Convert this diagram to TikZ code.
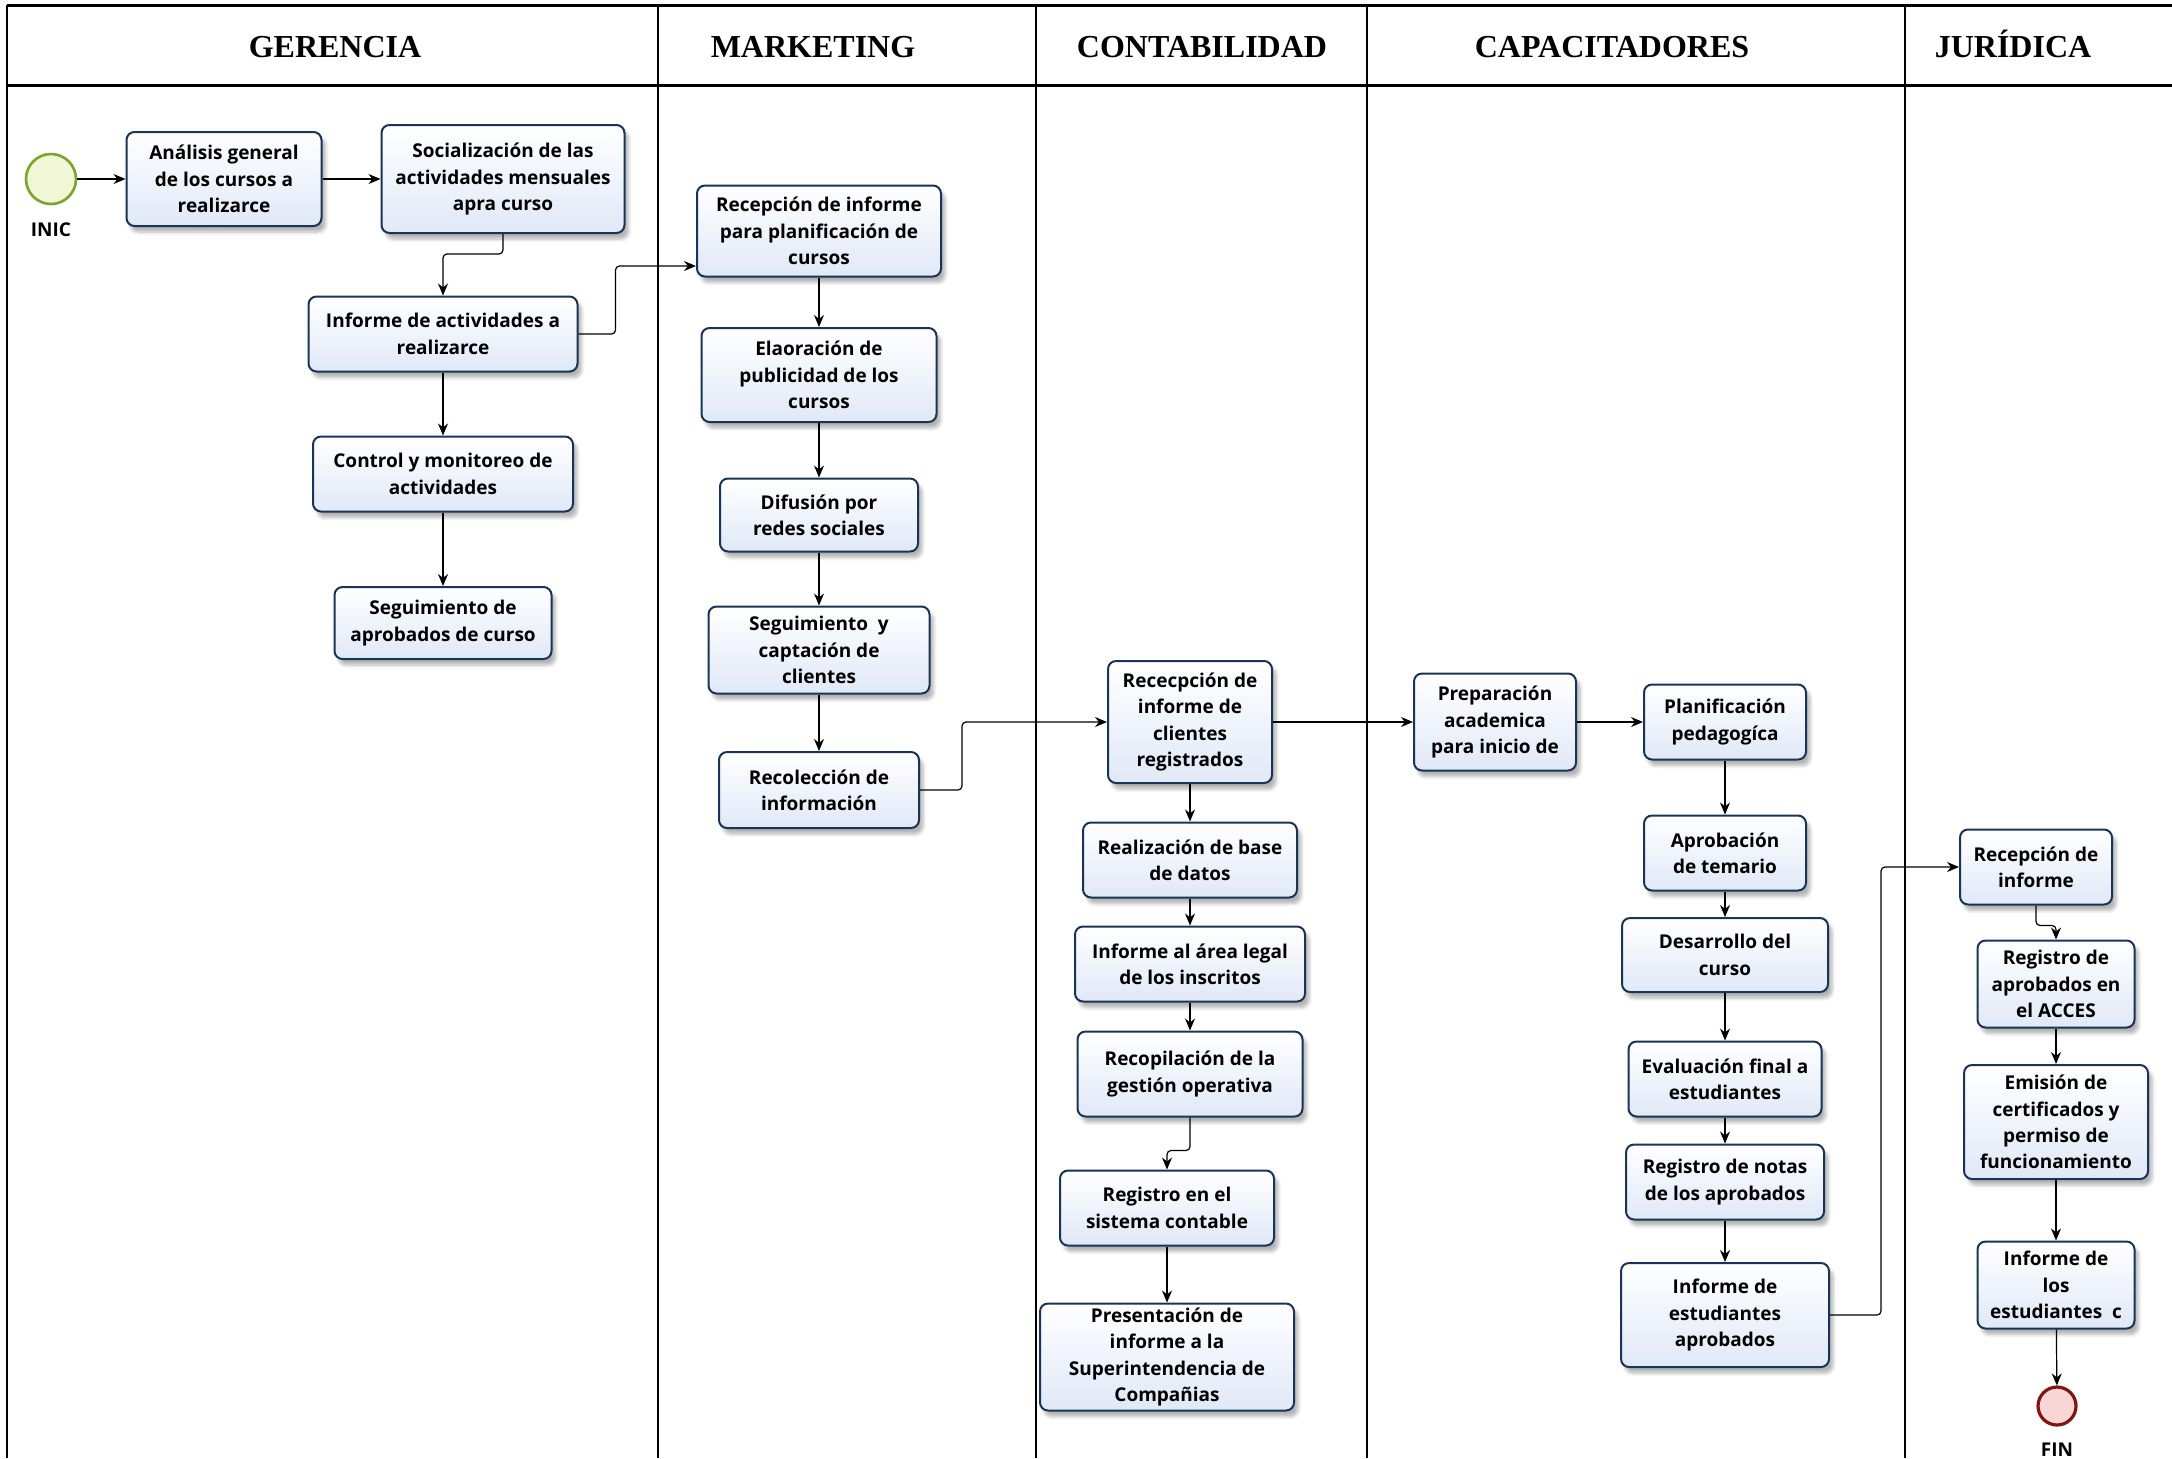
\documentclass[tikz,border=0pt]{standalone}
\usepackage{fontspec}
\usepackage{tikz}
\usetikzlibrary{arrows.meta,shadows.blur}
\newfontfamily\taskfont{Open Sans}
\newfontfamily\lanefont{Liberation Serif}
\definecolor{taskline}{RGB}{24,52,88}
\definecolor{taskfill}{RGB}{224,232,247}
\definecolor{startline}{RGB}{122,165,40}
\definecolor{startfill}{RGB}{240,246,214}
\definecolor{endline}{RGB}{130,20,20}
\definecolor{endfill}{RGB}{248,214,214}

\begin{document}
\begin{tikzpicture}[x=0.5pt,y=0.5pt,yscale=-1,
  task/.style={draw=taskline, line width=1pt, rounded corners=4pt,
    top color=white, bottom color=taskfill, align=center, inner sep=2pt,
    font=\taskfont\bfseries\fontsize{9.5}{13.2}\selectfont,
    blur shadow={shadow xshift=2pt, shadow yshift=-3pt, shadow opacity=30, shadow blur steps=6}},
  flow/.style={-{Stealth[length=6pt,width=5pt]}, line width=0.6pt, rounded corners=2pt},
  lanetitle/.style={anchor=base, font=\lanefont\bfseries\fontsize{16}{19}\selectfont},
  evlabel/.style={font=\taskfont\bfseries\fontsize{9.5}{11}\selectfont}]
\useasboundingbox (0,0) rectangle (2172,1458);

%Pool: header and lanes
\draw[line width=1.5pt] (7,5) -- (2172,5);
\draw[line width=1.5pt] (7,85) -- (2172,85);
\draw[line width=1pt] (7,5) -- (7,1458);
\foreach \x in {658,1036,1367,1905}
  \draw[line width=0.7pt] (\x,5) -- (\x,1458);

% Lane titles
\node[lanetitle] (tger) at (335,57) {GERENCIA};
\node[lanetitle] (tmkt) at (813,57) {MARKETING};
\node[lanetitle] (tcon) at (1202,57) {CONTABILIDAD};
\node[lanetitle] (tcap) at (1612,57) {CAPACITADORES};
\node[lanetitle] (tjur) at (2013,57) {JURÍDICA};

%Events
\node[circle, draw=startline, fill=startfill, line width=1.3pt, minimum size=25pt] (inic) at (51,179) {};
\node[evlabel] (inicl) at (51,230) {INIC};
\node[circle, draw=endline, fill=endfill, line width=1.6pt, minimum size=19pt] (fin) at (2057,1406) {};
\node[evlabel] (finl) at (2057,1450) {FIN};

%Tasks: GERENCIA
\node[task, minimum width=97.5pt, minimum height=47pt] (ger1) at (224,179) {Análisis general\\de los cursos a\\realizarce};
\node[task, minimum width=121.5pt, minimum height=54pt] (ger2) at (503,179) {Socialización de las\\actividades mensuales\\apra curso};
\node[task, minimum width=134.5pt, minimum height=37.5pt] (ger3) at (443,334) {Informe de actividades a\\realizarce};
\node[task, minimum width=130pt, minimum height=37.5pt] (ger4) at (443,474) {Control y monitoreo de\\actividades};
\node[task, minimum width=108.5pt, minimum height=36pt] (ger5) at (443,623) {Seguimiento de\\aprobados de curso};

%Tasks: MARKETING
\node[task, minimum width=122pt, minimum height=45.5pt] (mkt1) at (819,231) {Recepción de informe\\para planificación de\\cursos};
\node[task, minimum width=117.5pt, minimum height=47pt] (mkt2) at (819,375) {Elaoración de\\publicidad de los\\cursos};
\node[task, minimum width=99pt, minimum height=36.5pt] (mkt3) at (819,515) {Difusión por\\redes sociales};
\node[task, minimum width=110.5pt, minimum height=43.5pt] (mkt4) at (819,650) {Seguimiento~ y\\captación de\\clientes};
\node[task, minimum width=100pt, minimum height=38pt] (mkt5) at (819,790) {Recolección de\\información};

%Tasks: CONTABILIDAD
\node[task, minimum width=82pt, minimum height=61pt] (con1) at (1190,722) {Rececpción de\\informe de\\clientes\\registrados};
\node[task, minimum width=107pt, minimum height=37.5pt] (con2) at (1190,860) {Realización de base\\de datos};
\node[task, minimum width=115pt, minimum height=37.5pt] (con3) at (1190,964) {Informe al área legal\\de los inscritos};
\node[task, minimum width=112.5pt, minimum height=42.5pt] (con4) at (1190,1074) {Recopilación de la\\gestión operativa};
\node[task, minimum width=107pt, minimum height=37.5pt] (con5) at (1167,1208) {Registro en el\\sistema contable};
\node[task, minimum width=127pt, minimum height=53.5pt] (con6) at (1167,1357) {Presentación de\\informe a la\\Superintendencia de\\Compañias};

%Tasks: CAPACITADORES
\node[task, minimum width=81pt, minimum height=48.5pt] (cap1) at (1495,722) {Preparación\\academica\\para inicio de};
\node[task, minimum width=81pt, minimum height=37.5pt] (cap2) at (1725,722) {Planificación\\pedagogíca};
\node[task, minimum width=81pt, minimum height=37.5pt] (cap3) at (1725,853) {Aprobación\\de temario};
\node[task, minimum width=103pt, minimum height=37pt] (cap4) at (1725,955) {Desarrollo del\\curso};
\node[task, minimum width=96.5pt, minimum height=37.5pt] (cap5) at (1725,1079) {Evaluación final a\\estudiantes};
\node[task, minimum width=99pt, minimum height=37.5pt] (cap6) at (1725,1182) {Registro de notas\\de los aprobados};
\node[task, minimum width=104pt, minimum height=52pt] (cap7) at (1725,1315) {Informe de\\estudiantes\\aprobados};

%Tasks: JURIDICA
\node[task, minimum width=76pt, minimum height=37.5pt] (jur1) at (2036,867) {Recepción de\\informe};
\node[task, minimum width=78.5pt, minimum height=43.5pt] (jur2) at (2056,984) {Registro de\\aprobados en\\el ACCES};
\node[task, minimum width=92pt, minimum height=57pt] (jur3) at (2056,1122) {Emisión de\\certificados y\\permiso de\\funcionamiento};
\node[task, minimum width=78.5pt, minimum height=43.5pt] (jur4) at (2056,1285) {Informe de\\los\\estudiantes~ c};

%Sequence flows
\draw[flow] (inic) -- (ger1);
\draw[flow] (ger1) -- (ger2);
\draw[flow] (ger2.south) -- ++(0,20) -| (ger3.north);
\draw[flow] (ger3) -- (ger4);
\draw[flow] (ger4) -- (ger5);
\draw[flow] (ger3.east) -- ++(37,0) |- ([yshift=17.5pt]mkt1.west);
\draw[flow] (mkt1) -- (mkt2);
\draw[flow] (mkt2) -- (mkt3);
\draw[flow] (mkt3) -- (mkt4);
\draw[flow] (mkt4) -- (mkt5);
\draw[flow] (mkt5.east) -- ++(42,0) |- (con1.west);
\draw[flow] (con1) -- (con2);
\draw[flow] (con2) -- (con3);
\draw[flow] (con3) -- (con4);
\draw[flow] (con4.south) -- ++(0,33) -| (con5.north);
\draw[flow] (con5) -- (con6);
\draw[flow] (con1) -- (cap1);
\draw[flow] (cap1) -- (cap2);
\draw[flow] (cap2) -- (cap3);
\draw[flow] (cap3) -- (cap4);
\draw[flow] (cap4) -- (cap5);
\draw[flow] (cap5) -- (cap6);
\draw[flow] (cap6) -- (cap7);
\draw[flow] (cap7.east) -- ++(51,0) |- (jur1.west);
\draw[flow] (jur1.south) -- ++(0,20) -| (jur2.north);
\draw[flow] (jur2) -- (jur3);
\draw[flow] (jur3) -- (jur4);
\draw[flow] (jur4) -- (fin);

\end{tikzpicture}
\end{document}
